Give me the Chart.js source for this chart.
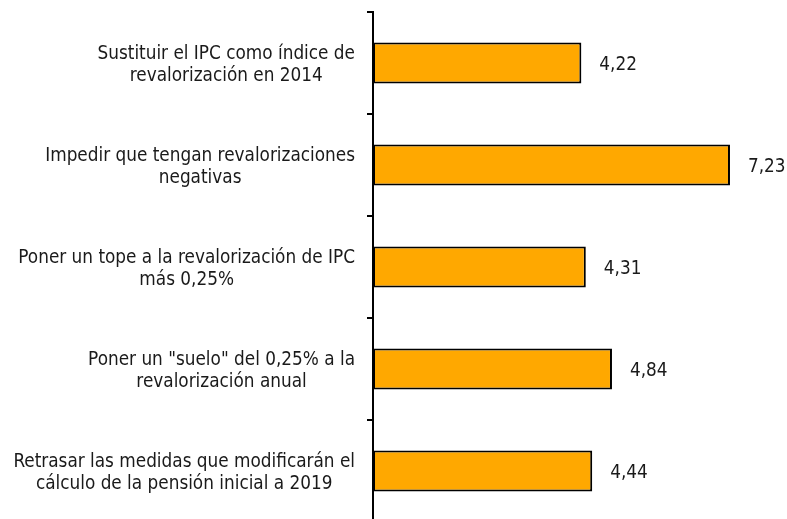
<!DOCTYPE html>
<html>
<head>
<meta charset="utf-8">
<script src="https://cdn.jsdelivr.net/npm/chart.js@4"></script>
<style>
  html, body { margin: 0; padding: 0; background: #fff; overflow: hidden; }
  #wrap { position: relative; width: 787px; height: 524px; }
</style>
</head>
<body>
<div id="wrap"><canvas id="chartContainer"></canvas></div>
<script>
// medidas sobre pensiones
const categories = [
  ['Sustituir el IPC como índice de', 'revalorización en 2014'],
  ['Impedir que tengan revalorizaciones', 'negativas'],
  ['Poner un tope a la revalorización de IPC', 'más 0,25%'],
  ['Poner un "suelo" del 0,25% a la', 'revalorización anual'],
  ['Retrasar las medidas que modificarán el', 'cálculo de la pensión inicial a 2019']
];
const values = [4.22, 7.23, 4.31, 4.84, 4.44];

const FONT = '18.8px "DejaVu Sans Condensed", "DejaVu Sans", sans-serif';
const AXIS_X = 373;

// category names: block right-aligned next to the axis, lines centred inside the block
const labelPlugin = {
  id: 'labels',
  afterDraw(chart) {
    const ctx = chart.ctx;
    const y = chart.scales.y;
    const meta = chart.getDatasetMeta(0);
    ctx.save();
    ctx.font = FONT;
    ctx.fillStyle = '#1a1a1a';
    ctx.textBaseline = 'middle';
    ctx.textAlign = 'center';
    categories.forEach((lines, i) => {
      const cy = y.getPixelForTick(i) + 2;
      const widest = Math.max(...lines.map(l => ctx.measureText(l).width));
      const cx = 355 - widest / 2;
      lines.forEach((l, j) => {
        ctx.fillText(l, cx, cy + (j - (lines.length - 1) / 2) * 22);
      });
    });
    // values at the end of the bars
    ctx.textAlign = 'left';
    meta.data.forEach((bar, i) => {
      ctx.fillText(values[i].toFixed(2).replace('.', ','), bar.x + 18, bar.y + 2);
    });
    ctx.restore();
  }
};

const ctx = document.getElementById('chartContainer');

new Chart(ctx, {
  type: 'bar',
  data: {
    labels: categories,
    datasets: [{
      data: values,
      backgroundColor: '#FFA800',
      borderColor: '#000',
      borderWidth: 2,
      borderSkipped: false,
      categoryPercentage: 1,
      barPercentage: 0.4
    }]
  },
  options: {
    indexAxis: 'y',
    responsive: true,
    maintainAspectRatio: false,
    animation: false,
    layout: { padding: { top: 12, bottom: 2, left: 0, right: 19 } },
    plugins: { legend: { display: false }, tooltip: { enabled: false } },
    scales: {
      x: { display: false, min: 0, max: 8 },
      y: {
        ticks: { display: false },
        grid: {
          drawOnChartArea: false,
          drawTicks: true,
          tickLength: 6,
          color: '#000',
          lineWidth: 2,
          offset: true
        },
        border: { display: true, color: '#000', width: 2 },
        afterFit(scale) { scale.width = AXIS_X; }
      }
    }
  },
  plugins: [labelPlugin]
});
</script>
</body>
</html>
